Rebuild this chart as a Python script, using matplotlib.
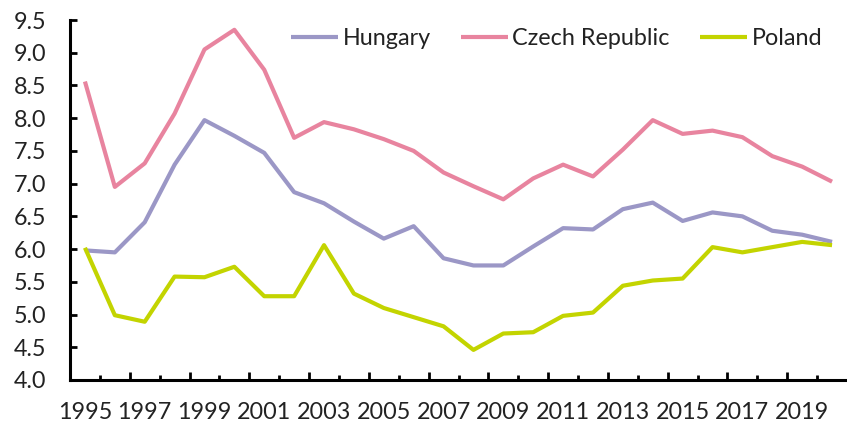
import numpy as np
import matplotlib.pyplot as plt

plt.rcParams['font.family'] = ['Lato', 'DejaVu Sans']

years = list(range(1995, 2021))

hungary = [5.98, 5.95, 6.41, 7.29, 7.97, 7.73, 7.47, 6.87, 6.70, 6.42,
           6.16, 6.35, 5.86, 5.75, 5.75, 6.04, 6.32, 6.30, 6.61, 6.71,
           6.43, 6.56, 6.50, 6.28, 6.22, 6.11]
czech = [8.56, 6.95, 7.31, 8.07, 9.05, 9.35, 8.74, 7.70, 7.94, 7.83,
         7.68, 7.50, 7.17, 6.96, 6.76, 7.08, 7.29, 7.11, 7.52, 7.97,
         7.76, 7.81, 7.71, 7.42, 7.26, 7.03]
poland = [6.02, 4.99, 4.89, 5.58, 5.57, 5.73, 5.28, 5.28, 6.06, 5.32,
          5.10, 4.96, 4.82, 4.46, 4.71, 4.73, 4.98, 5.03, 5.44, 5.52,
          5.55, 6.03, 5.95, 6.03, 6.11, 6.06]

series = [('Hungary', hungary, '#9b97c6'),
          ('Czech Republic', czech, '#e8849f'),
          ('Poland', poland, '#c3d400')]

fig = plt.figure(figsize=(8.47, 4.24), dpi=100)
ax = fig.add_axes([70 / 847, 44 / 424, 777 / 847, 360 / 424])

for name, vals, col in series:
    ax.plot(years, vals, color=col, lw=3.0, label=name, solid_capstyle='butt')

ax.set_xlim(1994.5, 2020.5)
ax.set_ylim(4.0, 9.5)
ax.set_yticks(np.arange(4.0, 9.51, 0.5))
ax.set_yticklabels([f'{v:.1f}' for v in np.arange(4.0, 9.51, 0.5)])

# labels on odd years, tick marks sit between categories
ax.set_xticks(years[::2])
ax.set_xticklabels([str(y) for y in years[::2]])
ax.tick_params(axis='x', which='major', length=0, pad=16, labelsize=16.8,
               labelcolor='#222222')
ax.set_xticks([y + 0.5 for y in years[1:-1:2]], minor=True)
ax.tick_params(axis='x', which='minor', direction='in', length=6, width=2)

sec = ax.secondary_xaxis('bottom')
sec.set_xticks([y + 0.5 for y in years[0:-1:2]])
sec.set_xticklabels([])
sec.tick_params(direction='in', length=3.5, width=2)
sec.spines['bottom'].set_visible(False)

ax.tick_params(axis='y', direction='in', length=5, width=2, pad=17,
               labelsize=16.8, labelcolor='#222222')

for s in ['top', 'right']:
    ax.spines[s].set_visible(False)
for s in ['left', 'bottom']:
    ax.spines[s].set_linewidth(2.2)
    ax.spines[s].set_color('black')

leg = ax.legend(loc='upper right', ncol=3, frameon=False, fontsize=16.8,
                handlelength=2.0, handletextpad=0.2, columnspacing=1.3,
                bbox_to_anchor=(0.995, 1.035))
for t in leg.get_texts():
    t.set_color('#222222')

fig.savefig('out.png', dpi=100)
